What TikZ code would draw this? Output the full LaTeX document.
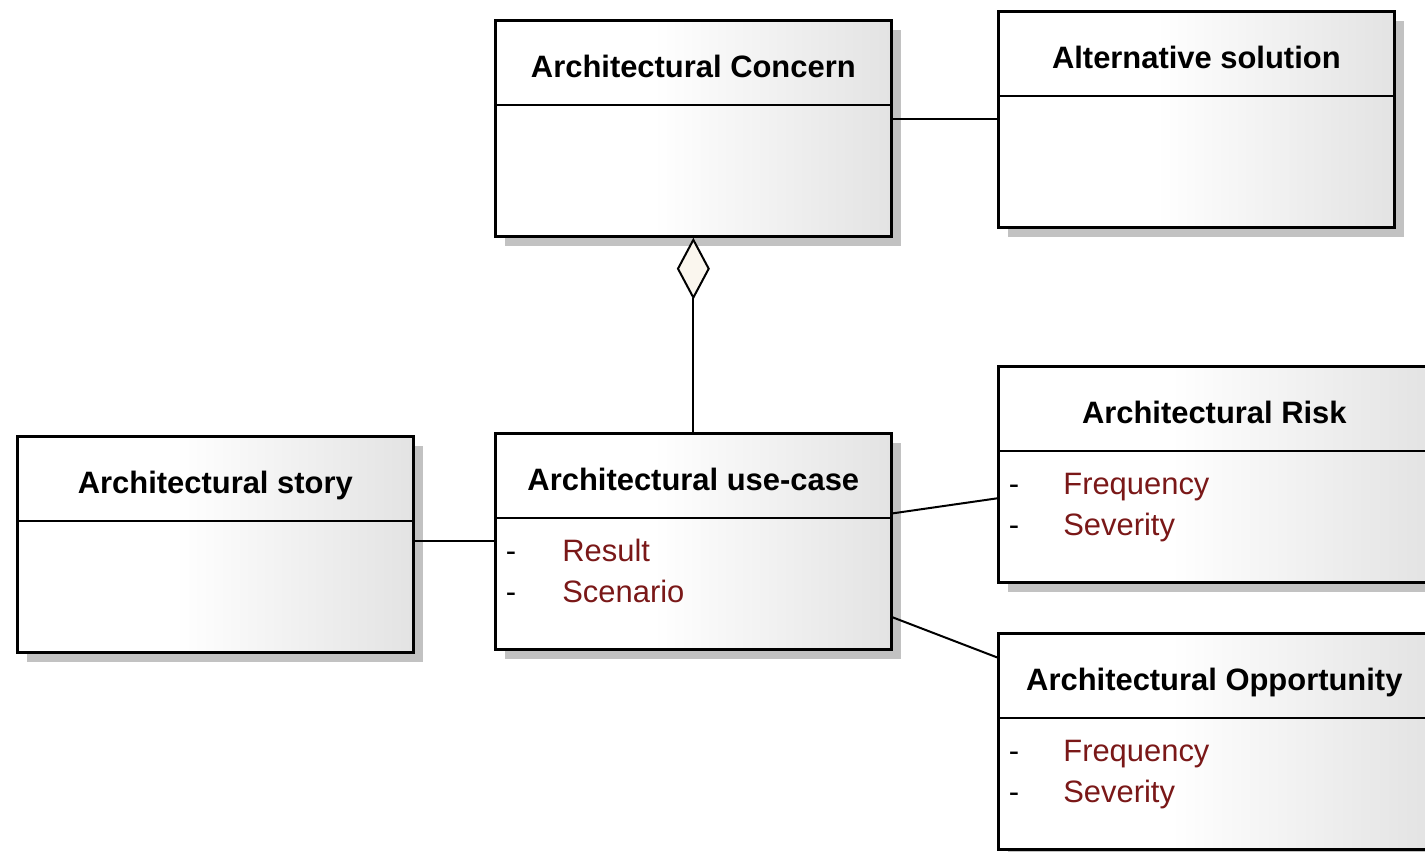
\documentclass[tikz,border=0pt]{standalone}
\usepackage{fontspec}
\setmainfont{Liberation Sans}
\usepackage{tikz}
\usetikzlibrary{arrows.meta,shadows,positioning,calc}
\definecolor{attrred}{RGB}{122,24,24}
\definecolor{diamondfill}{RGB}{250,246,238}
\pgfdeclarehorizontalshading{umlfill}{100bp}{color(0bp)=(white); color(45bp)=(white); color(75bp)=(black!11); color(100bp)=(black!11)}

\begin{document}
\begin{tikzpicture}[x=0.02cm,y=-0.02cm,
classbox/.style={draw,line width=0.055cm,inner sep=0pt,anchor=north west,
 minimum width=7.92cm,minimum height=4.32cm,shading=umlfill,
 drop shadow={shadow xshift=0.19cm,shadow yshift=-0.2cm,fill=black!24,opacity=1}},
widebox/.style={classbox,minimum width=8.64cm},
classname/.style={font=\fontsize{17.6pt}{21pt}\selectfont\bfseries,anchor=base,inner sep=0pt},
attr/.style={font=\fontsize{17.6pt}{21pt}\selectfont,text=attrred,anchor=base west,inner sep=0pt},
bulletmark/.style={font=\fontsize{17.6pt}{21pt}\selectfont,anchor=base,inner sep=0pt},
divider/.style={line width=0.055cm},
assoc/.style={line width=0.04cm}]
\path[use as bounding box,clip](0,0) rectangle (1425,851);

% classes
\node[classbox](concern) at (494,19){};
\node[classbox](alt) at (997,10){};
\node[classbox](story) at (16,435){};
\node[classbox](usecase) at (494,432){};
\node[widebox](risk) at (997,365){};
\node[widebox](opp) at (997,632){};

% name compartments
\foreach \c in {concern,alt,story,usecase,risk,opp}
 \draw[divider]([yshift=-1.72cm]\c.north west)--([yshift=-1.72cm]\c.north east);
\node[classname](concernname) at ([yshift=-1.18cm]concern.north){Architectural Concern};
\node[classname](altname) at ([yshift=-1.18cm]alt.north){Alternative solution};
\node[classname](storyname) at ([yshift=-1.18cm]story.north){Architectural story};
\node[classname](usecasename) at ([yshift=-1.18cm]usecase.north){Architectural use-case};
\node[classname](riskname) at ([yshift=-1.18cm]risk.north){Architectural Risk};
\node[classname](oppname) at ([yshift=-1.18cm]opp.north){Architectural Opportunity};

% attributes
\node[bulletmark] at ([xshift=0.34cm,yshift=-2.6cm]usecase.north west){-};
\node[bulletmark] at ([xshift=0.34cm,yshift=-3.42cm]usecase.north west){-};
\node[attr](result) at ([xshift=1.36cm,yshift=-2.6cm]usecase.north west){Result};
\node[attr](scenario) at ([xshift=1.36cm,yshift=-3.42cm]usecase.north west){Scenario};
\node[bulletmark] at ([xshift=0.34cm,yshift=-2.6cm]risk.north west){-};
\node[bulletmark] at ([xshift=0.34cm,yshift=-3.42cm]risk.north west){-};
\node[attr](riskfreq) at ([xshift=1.32cm,yshift=-2.6cm]risk.north west){Frequency};
\node[attr](risksev) at ([xshift=1.32cm,yshift=-3.42cm]risk.north west){Severity};
\node[bulletmark] at ([xshift=0.34cm,yshift=-2.6cm]opp.north west){-};
\node[bulletmark] at ([xshift=0.34cm,yshift=-3.42cm]opp.north west){-};
\node[attr](oppfreq) at ([xshift=1.32cm,yshift=-2.6cm]opp.north west){Frequency};
\node[attr](oppsev) at ([xshift=1.32cm,yshift=-3.42cm]opp.north west){Severity};

% associations
\draw[assoc](alt.west)--(alt.west -| concern.east);
\draw[assoc](usecase.west)--(usecase.west -| story.east);
\draw[assoc]([yshift=0.56cm]usecase.east)--([yshift=-0.48cm]risk.west);
\draw[assoc]([yshift=-1.52cm]usecase.east)--([yshift=1.68cm]opp.west);
\draw[assoc,{Diamond[length=1.24cm,width=0.66cm,fill=diamondfill]}-](concern.south)--(usecase.north);
\end{tikzpicture}
\end{document}
